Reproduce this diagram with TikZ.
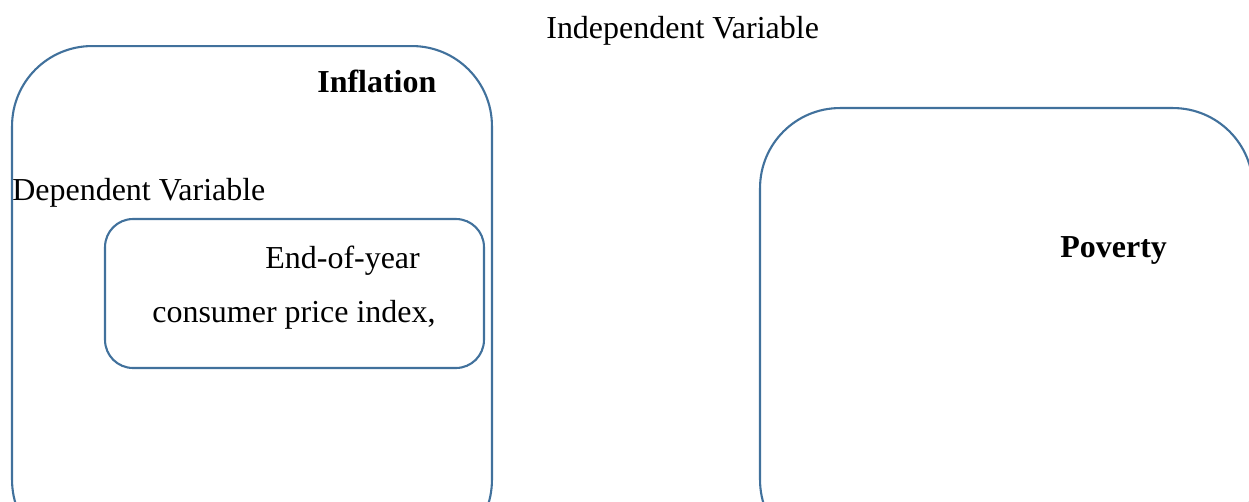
\documentclass[tikz,border=0pt]{standalone}
\usepackage{fontspec}
\setmainfont{Liberation Serif}
\usepackage{tikz}

\definecolor{boxline}{HTML}{41719C}

\begin{document}
\begin{tikzpicture}[x=0.02cm, y=-0.02cm]
			\tikzstyle{bigbox}=[draw=boxline, line width=1.2pt, rounded corners=1.6cm, inner sep=0pt]
			\tikzstyle{smallbox}=[draw=boxline, line width=1.2pt, rounded corners=0.56cm, inner sep=0pt]
			\tikzstyle{label}=[inner sep=0pt, anchor=base west, font=\fontsize{18.2pt}{22pt}\selectfont]

			\useasboundingbox (0,0) rectangle (1249,501);
			\clip (0,0) rectangle (1249,501);

			\node (infl) [bigbox, minimum width=9.6cm, minimum height=10.28cm] at (252,303) {};
			\node (pov) [bigbox, minimum width=9.86cm, minimum height=9.04cm] at (1006.5,334) {};
			\node (cpi) [smallbox, minimum width=7.58cm, minimum height=2.98cm] at (294.5,293.5) {};

			\node (indep) [label] at (546,38) {Independent Variable};
			\node (infltxt) [label, font=\fontsize{18.2pt}{22pt}\selectfont\bfseries] at (317,92) {Inflation};
			\node (dep) [label] at (12,200) {Dependent Variable};
			\node (cpi1) [label] at (265,268) {End-of-year};
			\node (cpi2) [label] at (152,322) {consumer price index,};
			\node (povtxt) [label, font=\fontsize{18.2pt}{22pt}\selectfont\bfseries] at (1060,257) {Poverty};
		\end{tikzpicture}
\end{document}
